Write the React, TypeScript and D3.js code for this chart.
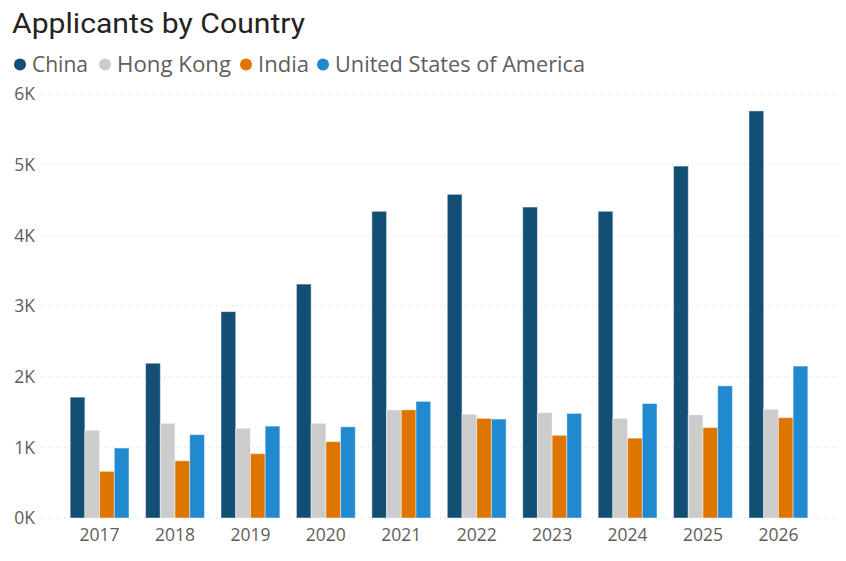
import React from "react";
import * as d3 from "d3";

const years = ["2017", "2018", "2019", "2020", "2021", "2022", "2023", "2024", "2025", "2026"];
const countries = ["China", "Hong Kong", "India", "United States of America"];
const colors = ["#134e74", "#cccccc", "#dd7500", "#2189cf"];

const china = [1710, 2190, 2920, 3310, 4340, 4580, 4400, 4340, 4980, 5760];
const hongKong = [1240, 1340, 1270, 1340, 1530, 1470, 1490, 1410, 1460, 1540];
const india = [660, 810, 910, 1080, 1530, 1410, 1170, 1130, 1280, 1420];
const usa = [990, 1180, 1300, 1290, 1650, 1400, 1480, 1620, 1870, 2150];
const series = [china, hongKong, india, usa];

const yTicks = [0, 1000, 2000, 3000, 4000, 5000, 6000];

const width = 846;
const height = 561;
const margin = { top: 94, right: 8, bottom: 43, left: 40 };

const font = "'Open Sans', 'Noto Sans', sans-serif";

const App: React.FC = () => {
  const x = d3
    .scaleBand<string>()
    .domain(years)
    .range([margin.left, width - margin.right])
    .paddingInner(0.22)
    .paddingOuter(0.4);

  const inner = d3
    .scaleBand<number>()
    .domain(d3.range(countries.length))
    .range([0, x.bandwidth()]);

  const y = d3
    .scaleLinear()
    .domain([0, 6000])
    .range([height - margin.bottom, margin.top]);

  const fmt = (v: number) => `${v / 1000}K`;

  // legend: dot x and label width
  const legendX = [20, 105, 246, 323];
  const legendW = [56, 114, 51, 250];

  return (
    <svg
      width={width}
      height={height}
      style={{ position: "absolute", left: 0, top: 0, background: "#fff" }}
    >
      <text
        x={12}
        y={33}
        fontFamily="Roboto, 'DejaVu Sans', sans-serif"
        fontSize={28}
        fill="#252423"
        textLength={293}
        lengthAdjust="spacingAndGlyphs"
      >
        Applicants by Country
      </text>

      {countries.map((c, i) => (
        <g key={c}>
          <circle cx={legendX[i]} cy={64.5} r={6} fill={colors[i]} />
          <text
            x={legendX[i] + 12}
            y={72}
            fontFamily={font}
            fontSize={21}
            fill="#605e5c"
            textLength={legendW[i]}
            lengthAdjust="spacingAndGlyphs"
          >
            {c}
          </text>
        </g>
      ))}

      {yTicks.map((t) => (
        <g key={t}>
          <line
            x1={margin.left}
            x2={width - margin.right}
            y1={y(t)}
            y2={y(t)}
            stroke="#d6d6d6"
            strokeDasharray="1,3"
          />
          <text
            x={35}
            y={y(t)}
            dy="0.36em"
            textAnchor="end"
            fontFamily={font}
            fontSize={17.5}
            fill="#605e5c"
          >
            {fmt(t)}
          </text>
        </g>
      ))}

      {years.map((yr, gi) => (
        <g key={yr} transform={`translate(${x(yr)},0)`}>
          {series.map((s, si) => (
            <rect
              key={si}
              x={inner(si)}
              y={y(s[gi])}
              width={inner.bandwidth()}
              height={y(0) - y(s[gi])}
              fill={colors[si]}
              stroke="rgba(255,255,255,0.45)"
              strokeWidth={1}
            />
          ))}
          <text
            x={x.bandwidth() / 2}
            y={541}
            textAnchor="middle"
            fontFamily={font}
            fontSize={17.5}
            fill="#605e5c"
          >
            {yr}
          </text>
        </g>
      ))}
    </svg>
  );
};

export default App;
